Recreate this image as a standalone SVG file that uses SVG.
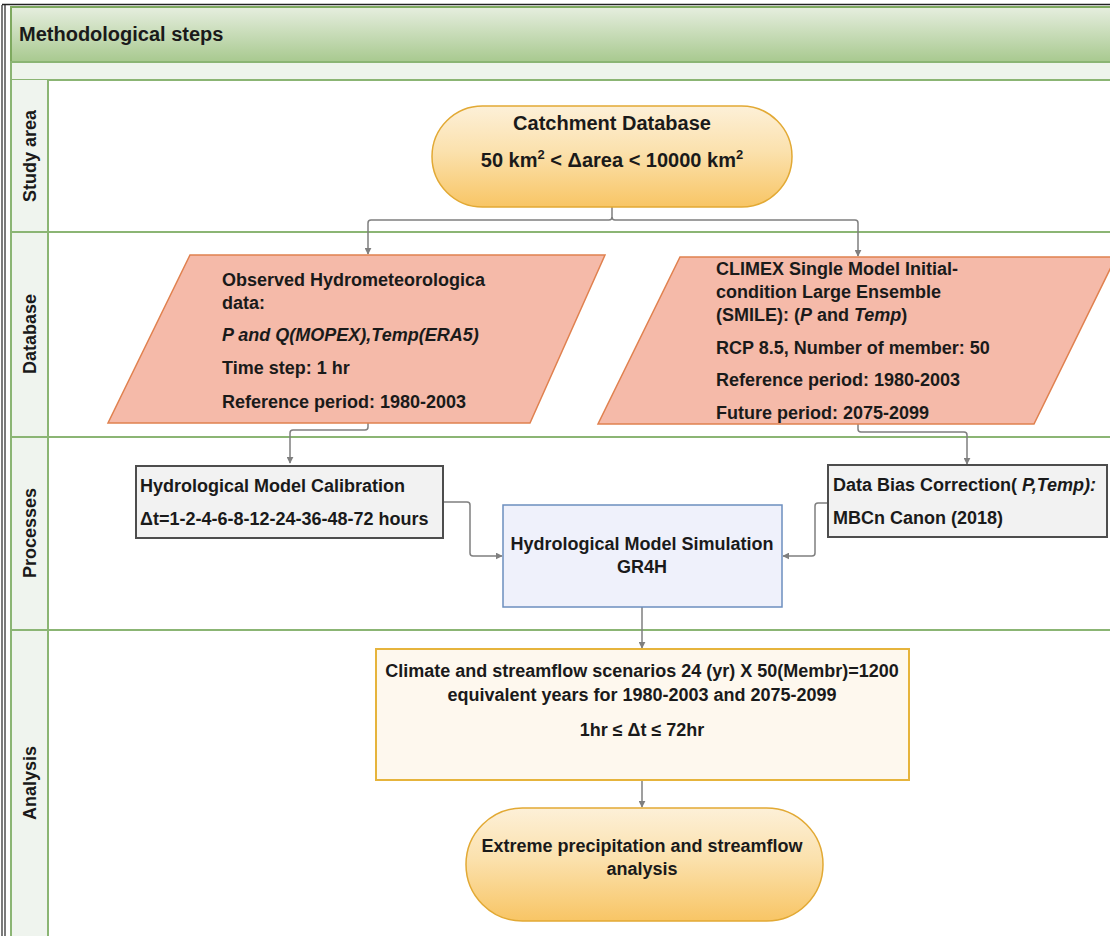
<svg xmlns="http://www.w3.org/2000/svg" width="1110" height="936" viewBox="0 0 1110 936">
<defs>
<linearGradient id="hdr" x1="0" y1="0" x2="0" y2="1">
<stop offset="0" stop-color="#e6eedf"/>
<stop offset="1" stop-color="#a8c98f"/>
</linearGradient>
<linearGradient id="term" x1="0" y1="0" x2="0" y2="1">
<stop offset="0" stop-color="#fdf0d8"/>
<stop offset="0.45" stop-color="#fbe1ad"/>
<stop offset="1" stop-color="#f8c565"/>
</linearGradient>
<marker id="arr" viewBox="0 0 10 10" refX="9" refY="5" markerWidth="7" markerHeight="7" orient="auto" markerUnits="userSpaceOnUse">
<path d="M0,0 L10,5 L0,10 z" fill="#7f7f7f"/>
</marker>
<style>
.t{font-family:"Liberation Sans",Arial,sans-serif;font-weight:bold;font-size:18px;fill:#1a1a1a}
.c{text-anchor:middle}
.lane{fill:none;stroke:#8bb574;stroke-width:2}
.lbl{font-family:"Liberation Sans",Arial,sans-serif;font-weight:bold;font-size:18px;fill:#1a1a1a;text-anchor:middle}
.conn{fill:none;stroke:#7f7f7f;stroke-width:1.5;stroke-linejoin:round}
.para{fill:#f5baa9;stroke:#e0814f;stroke-width:1.5}
.proc{fill:#f2f2f2;stroke:#4d4d4d;stroke-width:2}
</style>
</defs>
<rect width="1110" height="936" fill="#ffffff"/>
<line x1="2" y1="5" x2="2" y2="936" stroke="#222" stroke-width="1.2"/>
<line x1="5" y1="5" x2="5" y2="936" stroke="#222" stroke-width="1.2"/>
<line x1="2" y1="4.5" x2="1110" y2="4.5" stroke="#222" stroke-width="1.5"/>
<g id="swimlanes">
<rect x="11" y="7" width="1105" height="55" fill="url(#hdr)" stroke="#7ea95f" stroke-width="2"/>
<text class="t" x="19" y="41" style="font-size:20px">Methodological steps</text>
<rect x="11" y="62" width="1105" height="18" fill="#eef4ec" stroke="#8bb574" stroke-width="2"/>
<rect x="11" y="80" width="37" height="860" fill="#eff4ee"/>
<line class="lane" x1="11" y1="62" x2="11" y2="936"/>
<line class="lane" x1="48" y1="80" x2="48" y2="936"/>
<line class="lane" x1="11" y1="232" x2="1110" y2="232"/>
<line class="lane" x1="11" y1="437" x2="1110" y2="437"/>
<line class="lane" x1="11" y1="630" x2="1110" y2="630"/>
<text class="lbl" transform="translate(36,156) rotate(-90)">Study area</text>
<text class="lbl" transform="translate(36,334) rotate(-90)">Database</text>
<text class="lbl" transform="translate(36,533) rotate(-90)">Processes</text>
<text class="lbl" transform="translate(36,783) rotate(-90)">Analysis</text>
</g>
<g id="connectors">
<path class="conn" d="M612,207 V217 Q612,220 609,220 H371 Q368,220 368,223 V254" marker-end="url(#arr)"/>
<path class="conn" d="M612,217 Q612,220 615,220 H855 Q858,220 858,223 V256" marker-end="url(#arr)"/>
<path class="conn" d="M368,423 V427 Q368,430 365,430 H293 Q290,430 290,433 V463" marker-end="url(#arr)"/>
<path class="conn" d="M858,424 V429 Q858,432 861,432 H964 Q967,432 967,435 V464" marker-end="url(#arr)"/>
<path class="conn" d="M443,502 H467 Q470,502 470,505 V553 Q470,556 473,556 H502" marker-end="url(#arr)"/>
<path class="conn" d="M828,503 H818 Q815,503 815,506 V553 Q815,556 812,556 H783" marker-end="url(#arr)"/>
<path class="conn" d="M642,607 V648" marker-end="url(#arr)"/>
<path class="conn" d="M642,780 V807" marker-end="url(#arr)"/>
</g>
<g id="catchment">
<rect x="432" y="106" width="360" height="101" rx="50.5" fill="url(#term)" stroke="#e2a934" stroke-width="1.5"/>
<text class="t c" x="612" y="130" style="font-size:20px">Catchment Database</text>
<text class="t c" x="612" y="167" style="font-size:20px">50 km<tspan dy="-8" font-size="13">2</tspan><tspan dy="8"> &lt; Δarea &lt; 10000 km</tspan><tspan dy="-8" font-size="13">2</tspan></text>
</g>
<g id="observed">
<polygon class="para" points="190,255 605,255 530,423 108,423"/>
<text class="t" x="222" y="286">Observed Hydrometeorologica</text>
<text class="t" x="222" y="309">data:</text>
<text class="t" x="222" y="341" font-style="italic">P and Q(MOPEX),Temp(ERA5)</text>
<text class="t" x="222" y="374">Time step: 1 hr</text>
<text class="t" x="222" y="408">Reference period: 1980-2003</text>
</g>
<g id="climex">
<polygon class="para" points="680,257 1116,257 1034,424 598,424"/>
<text class="t" x="716" y="275">CLIMEX Single Model Initial-</text>
<text class="t" x="716" y="298">condition Large Ensemble</text>
<text class="t" x="716" y="321">(SMILE): (<tspan font-style="italic">P</tspan> and <tspan font-style="italic">Temp</tspan>)</text>
<text class="t" x="716" y="354">RCP 8.5, Number of member: 50</text>
<text class="t" x="716" y="386">Reference period: 1980-2003</text>
<text class="t" x="716" y="419">Future period: 2075-2099</text>
</g>
<g id="calibration">
<rect class="proc" x="136" y="466" width="307" height="72"/>
<text class="t" x="140" y="492">Hydrological Model Calibration</text>
<text class="t" x="140" y="525">Δt=1-2-4-6-8-12-24-36-48-72 hours</text>
</g>
<g id="bias">
<rect class="proc" x="828" y="465" width="279" height="72"/>
<text class="t" x="833" y="491">Data Bias Correction( <tspan font-style="italic">P,Temp):</tspan></text>
<text class="t" x="833" y="524">MBCn Canon (2018)</text>
</g>
<g id="simulation">
<rect x="503" y="505" width="279" height="102" fill="#eff1fb" stroke="#6c8ebf" stroke-width="1.5"/>
<text class="t c" x="642" y="550">Hydrological Model Simulation</text>
<text class="t c" x="642" y="573">GR4H</text>
</g>
<g id="scenarios">
<rect x="376" y="649" width="533" height="131" fill="#fef8ee" stroke="#e6b43c" stroke-width="2"/>
<text class="t c" x="642" y="677">Climate and streamflow scenarios 24 (yr) X 50(Membr)=1200</text>
<text class="t c" x="642" y="701">equivalent years for 1980-2003 and 2075-2099</text>
<text class="t c" x="642" y="736">1hr ≤ Δt ≤ 72hr</text>
</g>
<g id="extreme">
<rect x="466" y="808" width="357" height="113" rx="56.5" fill="url(#term)" stroke="#e2a934" stroke-width="1.5"/>
<text class="t c" x="642" y="852">Extreme precipitation and streamflow</text>
<text class="t c" x="642" y="875">analysis</text>
</g>
</svg>
